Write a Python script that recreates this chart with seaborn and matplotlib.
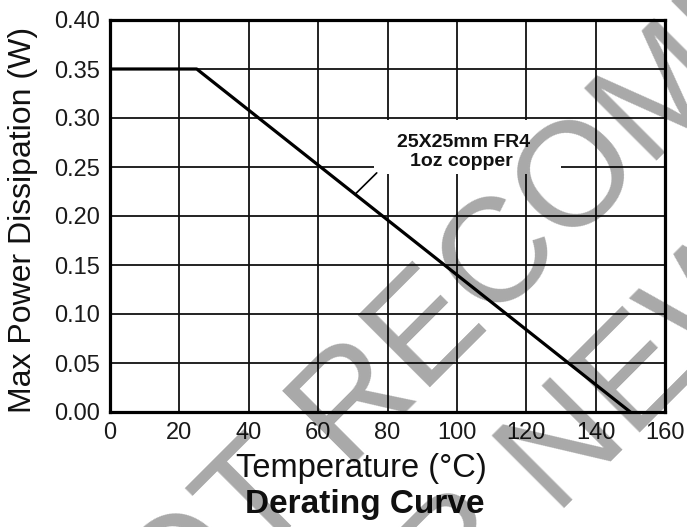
import matplotlib
matplotlib.use("Agg")
import matplotlib.pyplot as plt
import numpy as np
import pandas as pd
import seaborn as sns
from matplotlib.patches import Rectangle

# ---- data ----
temperature_c = [0, 25, 150]
power_w = [0.35, 0.35, 0.0]
x_ticks = [0, 20, 40, 60, 80, 100, 120, 140, 160]
y_ticks = [0.00, 0.05, 0.10, 0.15, 0.20, 0.25, 0.30, 0.35, 0.40]
annotation_lines = ["25X25mm FR4", "1oz copper"]
watermark_lines = ["NOT RECOMMENDED", "FOR NEW DESIGN"]

sns.set_style("white")
plt.rcParams["font.family"] = ["Liberation Sans", "DejaVu Sans"]

W, H = 687, 527
fig = plt.figure(figsize=(W / 100, H / 100), dpi=100)
ax = fig.add_axes([110 / W, 1 - 412 / H, 555 / W, 392 / H])

df = pd.DataFrame({"Temperature": temperature_c, "Power": power_w})
sns.lineplot(data=df, x="Temperature", y="Power", color="black",
             linewidth=2.3, ax=ax, zorder=4)

ax.set_xlim(0, 160)
ax.set_ylim(0, 0.40)
ax.set_xticks(x_ticks)
ax.set_yticks(y_ticks)
ax.set_xticklabels([str(v) for v in x_ticks])
ax.set_yticklabels([f"{v:.2f}" for v in y_ticks])
ax.set_axisbelow(True)
ax.grid(True, color="#111111", linewidth=1.3)
ax.tick_params(axis="both", length=0, labelsize=17, colors="#1a1a1a")
ax.tick_params(axis="y", pad=7)
ax.tick_params(axis="x", pad=7.5)
for s in ax.spines.values():
    s.set_linewidth(2.3)
    s.set_color("black")

# white box behind annotation
ax.add_patch(Rectangle((76, 0.243), 54, 0.055, facecolor="white",
                       edgecolor="none", zorder=2))
ax.plot([70.6, 76.9], [0.222, 0.244], color="black", linewidth=1.2, zorder=3)
ax.text(102.0, 0.2704, annotation_lines[0], ha="center", va="baseline",
        fontsize=14, fontweight="bold", color="#111111", zorder=5)
ax.text(101.3, 0.251, annotation_lines[1], ha="center", va="baseline",
        fontsize=14, fontweight="bold", color="#111111", zorder=5)

ax.set_xlabel("Temperature (°C)", fontsize=23.5, color="#111111")
ax.xaxis.set_label_coords(0.4523, -0.1658)
ax.xaxis.label.set_va("baseline")
ax.set_ylabel("Max Power Dissipation (W)", fontsize=23, color="#111111")
ax.yaxis.set_label_coords(-0.157, 0.49)
ax.yaxis.label.set_va("center")
ax.text(0.4595, -0.2577, "Derating Curve", transform=ax.transAxes,
        ha="center", va="baseline", fontsize=24, fontweight="bold",
        color="#111111")

# diagonal watermark
fig.text(644 / W, 1 - 173.4 / H, watermark_lines[0], rotation=45,
         rotation_mode="anchor", ha="center", va="baseline",
         fontsize=106.6, color="black", alpha=0.34, zorder=10)
fig.text(768.2 / W, 1 - 304.6 / H, watermark_lines[1], rotation=45,
         rotation_mode="anchor", ha="center", va="baseline",
         fontsize=106.6, color="black", alpha=0.34, zorder=10)

fig.savefig("out.png", dpi=100)
